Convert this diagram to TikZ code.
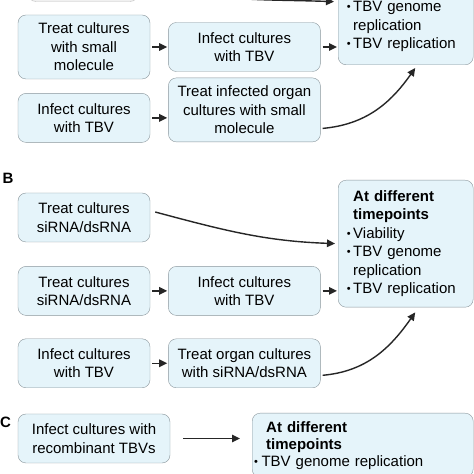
\documentclass[tikz,border=0pt]{standalone}
\usepackage{fontspec}
\setmainfont{Liberation Sans}
\usetikzlibrary{positioning, arrows.meta}
\definecolor{boxfill}{RGB}{229,244,250}
\definecolor{boxline}{RGB}{138,150,156}
\newcommand{\bulletpt}{\leavevmode\llap{\raisebox{1pt}{\fontsize{11}{11}\selectfont\textbullet}\hspace{2.5pt}}}

\begin{document}
\begin{tikzpicture}[
		x=1pt, y=1pt,
		node distance=18pt,
		box/.style={draw=boxline, fill=boxfill, rounded corners=8pt, align=center, inner sep=2pt, font=\fontsize{15}{18.5}\selectfont},
		lbox/.style={box, minimum width=132pt, minimum height=49pt},
		mbox/.style={box, minimum width=152pt, minimum height=49pt},
		outbox/.style={box, align=left, text width=105pt, inner xsep=15pt},
		panel/.style={font=\fontsize{15}{15}\selectfont\bfseries},
		arrow/.style={-{Triangle[length=8pt, width=7.5pt]}, line width=1.4pt, color=black!85}
		]
		
		\path[use as bounding box, fill=white] (0,0) rectangle (474,474);
		\clip (0,0) rectangle (474,474);
		
		% ==========================================
		% PANEL A
		% ==========================================
		\node[lbox, minimum width=110pt, fill=gray!12, draw=gray!50] (a0) at (83,497) {};
		\node[lbox, minimum height=64pt] (a1) at (84,427) {Treat cultures\\with small\\molecule};
		\node[mbox, right=of a1] (a2) {Infect cultures\\with TBV};
		\node[lbox, below=14pt of a1] (a3) {Infect cultures\\with TBV};
		\node[mbox, minimum height=64pt, below=6pt of a2] (a4) {Treat infected organ\\cultures with small\\molecule};
		\node[outbox, minimum height=76pt, anchor=south west] (ra) at (338,409) {
			\bulletpt TBV genome\\
			replication\\
			\bulletpt TBV replication
		};
		
		\draw[arrow, shorten <=2pt, shorten >=1pt] (a1.east) -- (a2.west);
		\draw[arrow, shorten <=2pt, shorten >=1pt] (a2.east) -- (a2.east -| ra.west);
		\draw[arrow, shorten <=2pt, shorten >=1pt] (a3.east) -- (a3.east -| a4.west);
		\draw[arrow, shorten >=4pt] ([xshift=5pt, yshift=-5.5pt]a0.east) to[out=-15, in=178] ([yshift=25pt]ra.west);
		\draw[arrow] ([xshift=2pt, yshift=-18.5pt]a4.east) to[out=5, in=-125] ([xshift=9.5pt, yshift=-3pt]ra.south);
		
		% ==========================================
		% PANEL B
		% ==========================================
		\node[panel] (lb) at (8,296) {B};
		\node[lbox] (b1) at (84,256.5) {Treat cultures\\siRNA/dsRNA};
		\node[lbox, below=24pt of b1] (b2) {Treat cultures\\siRNA/dsRNA};
		\node[mbox, right=of b2] (b3) {Infect cultures\\with TBV};
		\node[lbox, below=23pt of b2] (b4) {Infect cultures\\with TBV};
		\node[mbox, right=of b4] (b5) {Treat organ cultures\\with siRNA/dsRNA};
		\node[outbox, minimum height=127pt, anchor=north west] (rb) at (338,294) {
			\textbf{At different}\\
			\textbf{timepoints}\\
			\bulletpt Viability\\
			\bulletpt TBV genome\\
			replication\\
			\bulletpt TBV replication
		};
		
		\draw[arrow, shorten >=3pt] ([xshift=5pt, yshift=5.5pt]b1.east) to[out=-15, in=178] (rb.west);
		\draw[arrow, shorten <=2pt, shorten >=1pt] (b2.east) -- (b3.west);
		\draw[arrow, shorten <=2pt, shorten >=1pt] (b3.east) -- (b3.east -| rb.west);
		\draw[arrow, shorten <=2pt, shorten >=1pt] (b4.east) -- (b5.west);
		\draw[arrow] ([xshift=2pt, yshift=-12pt]b5.east) to[out=5, in=-125] ([xshift=9.5pt, yshift=-5pt]rb.south);
		
		% ==========================================
		% PANEL C
		% ==========================================
		\node[panel] (lc) at (5.5,52) {C};
		\node[mbox] (c1) at (94,35.5) {Infect cultures with\\recombinant TBVs};
		\node[outbox, text width=193pt, inner xsep=14pt, minimum height=64pt, anchor=north west, font=\fontsize{15}{17}\selectfont] (rc) at (252,61) {
			\textbf{At different}\\
			\textbf{timepoints}\\
			\hspace*{-12pt}\raisebox{1pt}{\fontsize{11}{11}\selectfont\textbullet}\hspace{3.5pt}TBV genome replication
		};
		
		\draw[arrow, shorten <=13pt, shorten >=12pt] (c1.east) -- (c1.east -| rc.west);
		
	\end{tikzpicture}
\end{document}
